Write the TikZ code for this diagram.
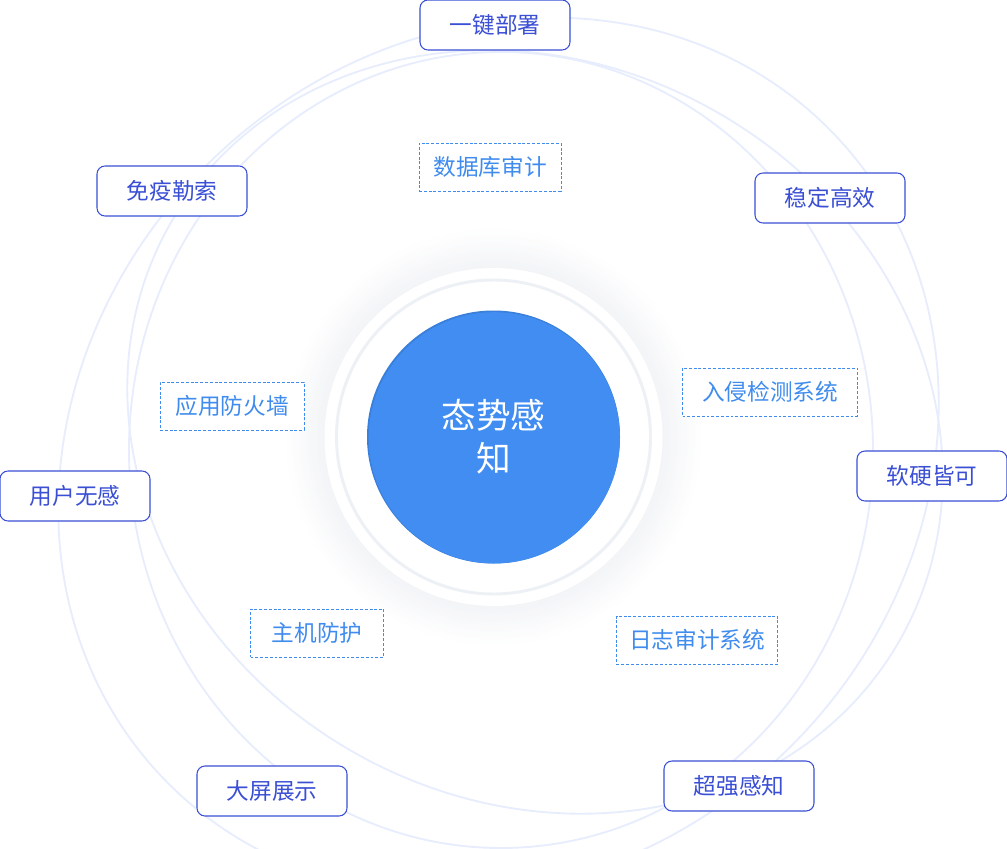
\documentclass[tikz,border=0pt]{standalone}
\usepackage{fontspec}
\usetikzlibrary{calc}
\setmainfont{Noto Sans CJK SC}
\definecolor{orbita}{HTML}{E7EDFC}
\definecolor{azulfuerte}{HTML}{3A4FD4}
\definecolor{azulclaro}{HTML}{3F8CEE}
\definecolor{nucleo}{HTML}{418DF2}
\definecolor{anillo}{HTML}{EDF0F5}
\definecolor{sombra}{RGB}{60,80,120}
\begin{document}
\begin{tikzpicture}[x=0.75pt, y=-0.75pt,
  orbit/.style={draw=orbita, line width=1.4pt},
  featbox/.style={draw=azulfuerte, text=azulfuerte, fill=white, rounded corners=6pt,
    line width=0.8pt, minimum width=112.5pt, minimum height=37.5pt,
    font=\fontsize{17}{20}\selectfont},
  tagbox/.style={draw=azulclaro, text=azulclaro, fill=white, line width=0.75pt,
    dash pattern=on 2.2pt off 1.4pt, minimum height=36pt,
    font=\fontsize{17}{20}\selectfont}]
\useasboundingbox (0,0) rectangle (1007,849);
\clip (0,0) rectangle (1007,849);
% Orbitas
\draw[orbit, rotate around={44:(498.5,456)}] (498.5,456) ellipse [x radius=465, y radius=412];
\draw[orbit, rotate around={150:(535,432)}] (535,432) ellipse [x radius=420, y radius=368];
\draw[orbit] (501,450) ellipse [x radius=372, y radius=398];
% Nucleo
\coordinate (core) at (493.5,437);
\foreach \k in {1,...,16}
  \fill[sombra, opacity=0.005] (core) circle [radius=168+2.5*\k];
\fill[white] (core) circle [radius=169];
\draw[anillo, line width=2.2pt] (core) circle [radius=157];
\fill[nucleo!90!black] (core) circle [radius=126.5];
\fill[nucleo] ($(core)+(0.8,0.8)$) circle [radius=125.6];
\node[text=white, align=center, font=\fontsize{26}{32}\selectfont] (titulo) at (core) {态势感\\知};
% Ventajas
\node[featbox] (deploy) at (495,25) {一键部署};
\node[featbox] (ransom) at (172,191) {免疫勒索};
\node[featbox] (stable) at (830,198) {稳定高效};
\node[featbox] (hwsw) at (932,476) {软硬皆可};
\node[featbox] (silent) at (75,496) {用户无感};
\node[featbox] (screen) at (272,791) {大屏展示};
\node[featbox] (sense) at (739,786) {超强感知};
% Modulos
\node[tagbox, minimum width=106.5pt] (dbaudit) at (490,167) {数据库审计};
\node[tagbox, minimum width=131.25pt] (ids) at (770,392) {入侵检测系统};
\node[tagbox, minimum width=108pt] (waf) at (232,406) {应用防火墙};
\node[tagbox, minimum width=99.75pt] (hostp) at (317,633) {主机防护};
\node[tagbox, minimum width=120.75pt] (logaudit) at (697,640) {日志审计系统};
\end{tikzpicture}
\end{document}
